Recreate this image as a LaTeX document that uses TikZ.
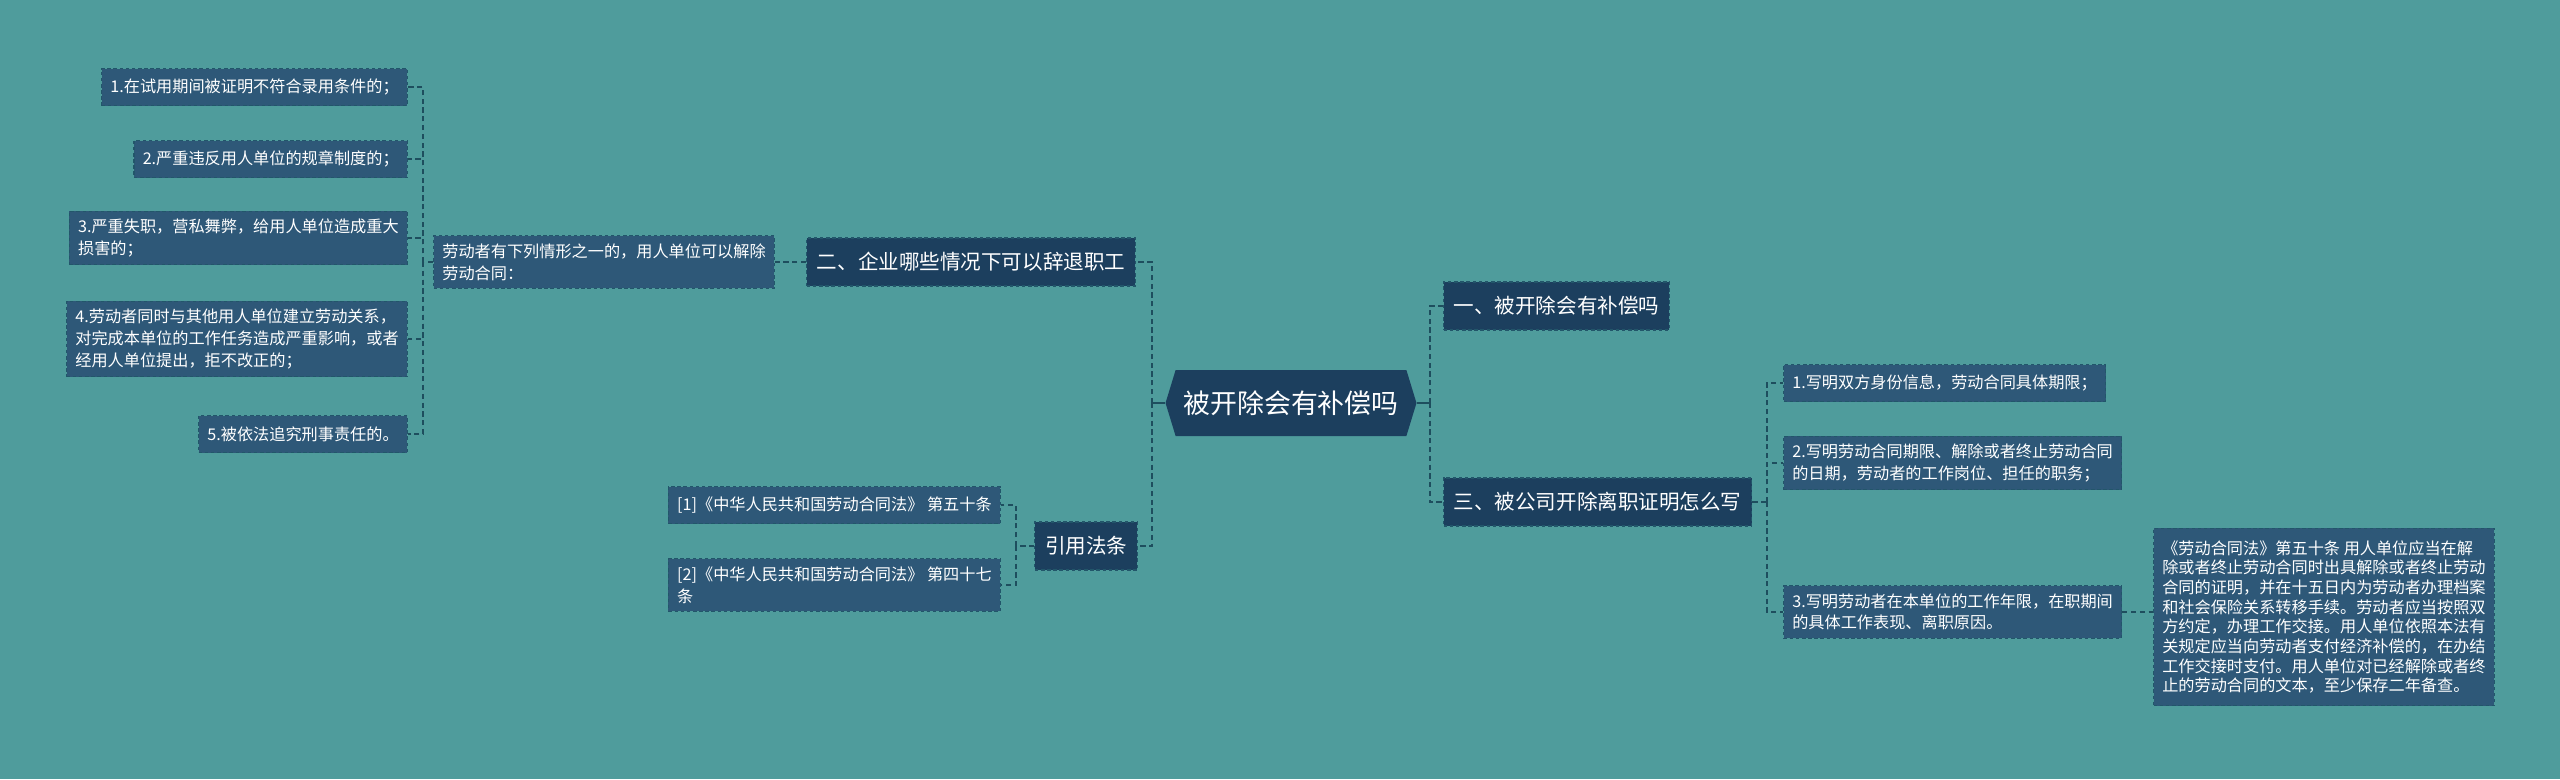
\documentclass[tikz,border=0pt]{standalone}
\usepackage{fontspec}
\setmainfont{Noto Sans CJK SC}
\usetikzlibrary{shapes.symbols, positioning, calc}
\definecolor{bgteal}{HTML}{4F9C9C}
\definecolor{navy}{HTML}{1C3F5E}
\definecolor{leafblue}{HTML}{2E5878}
\definecolor{rim}{HTML}{22566A}
\definecolor{wire}{HTML}{1E4E5E}

\begin{document}
\begin{tikzpicture}[x=0.02cm, y=-0.02cm,
    root/.style={signal, signal to=west and east, signal pointer angle=146,
      fill=navy, text=white, font=\fontsize{15.3pt}{18pt}\selectfont,
      minimum width=5.02cm, minimum height=1.32cm, inner sep=2pt},
    topic/.style={draw=rim, fill=navy, text=white, line width=0.6pt,
      dash pattern=on 2pt off 1.5pt, font=\fontsize{11.7pt}{14pt}\selectfont,
      inner xsep=5.8pt, minimum height=0.96cm},
    leaf/.style={draw=rim, fill=leafblue, text=white, line width=0.6pt,
      dash pattern=on 2pt off 1.5pt, font=\fontsize{9.2pt}{12.3pt}\selectfont,
      align=left, inner xsep=5pt, inner ysep=4.5pt, minimum height=0.74cm},
    link/.style={wire, line width=0.85pt, dash pattern=on 3pt off 2pt},
    stub/.style={wire, line width=0.85pt}]

  \fill[bgteal] (0,0) rectangle (2560,779);

  % centre
  \node[root] (root) at (1291,403) {被开除会有补偿吗};
  \coordinate (cL) at (1152,403);
  \coordinate (cR) at (1430,403);

  % right branch
  \node[topic, anchor=west] (t1) at (1443,306) {一、被开除会有补偿吗};
  \node[topic, anchor=west] (t3) at (1443,502) {三、被公司开除离职证明怎么写};
  \coordinate (sC) at (1767,502);
  \node[leaf, anchor=west] (b1) at (1783,383) {1.写明双方身份信息，劳动合同具体期限；};
  \node[leaf, anchor=west] (b2) at (1783,463) {2.写明劳动合同期限、解除或者终止劳动合同\\的日期，劳动者的工作岗位、担任的职务；};
  \node[leaf, anchor=west] (b3) at (1783,612) {3.写明劳动者在本单位的工作年限，在职期间\\的具体工作表现、离职原因。};
  \node[leaf, anchor=west, font=\fontsize{9.2pt}{11.2pt}\selectfont, inner ysep=7pt] (detail) at (2153,617) {《劳动合同法》第五十条 用人单位应当在解\\除或者终止劳动合同时出具解除或者终止劳动\\合同的证明，并在十五日内为劳动者办理档案\\和社会保险关系转移手续。劳动者应当按照双\\方约定，办理工作交接。用人单位依照本法有\\关规定应当向劳动者支付经济补偿的，在办结\\工作交接时支付。用人单位对已经解除或者终\\止的劳动合同的文本，至少保存二年备查。};

  % left branch
  \node[topic, anchor=east] (t2) at (1136,262) {二、企业哪些情况下可以辞退职工};
  \node[topic, anchor=east] (tref) at (1138,546) {引用法条};
  \node[leaf, anchor=east] (intro) at (775,262) {劳动者有下列情形之一的，用人单位可以解除\\劳动合同：};
  \coordinate (sA) at (423,262);
  \node[leaf, anchor=east] (a1) at (408,87) {1.在试用期间被证明不符合录用条件的；};
  \node[leaf, anchor=east] (a2) at (408,159) {2.严重违反用人单位的规章制度的；};
  \node[leaf, anchor=east] (a3) at (408,238) {3.严重失职，营私舞弊，给用人单位造成重大\\损害的；};
  \node[leaf, anchor=east] (a4) at (408,339) {4.劳动者同时与其他用人单位建立劳动关系，\\对完成本单位的工作任务造成严重影响，或者\\经用人单位提出，拒不改正的；};
  \node[leaf, anchor=east] (a5) at (408,434) {5.被依法追究刑事责任的。};
  \coordinate (sB) at (1016,546);
  \node[leaf, anchor=east] (r1) at (1001,505) {[1]《中华人民共和国劳动合同法》 第五十条};
  \node[leaf, anchor=east] (r2) at (1001,585) {[2]《中华人民共和国劳动合同法》 第四十七\\条};

  % connectors
  \draw[stub] (root.west) -- (cL);
  \draw[stub] (root.east) -- (cR);
  \draw[link] (cL) |- (t2.east);
  \draw[link] (cL) |- (tref.east);
  \draw[link] (cR) |- (t1.west);
  \draw[link] (cR) |- (t3.west);

  \draw[link] (t2.west) -- (intro.east);
  \draw[link] (intro.west) -- (sA);
  \foreach \n in {a1,a2,a3,a4,a5}
    \draw[link] (sA) |- (\n.east);

  \draw[link] (tref.west) -- (sB);
  \draw[link] (sB) |- (r1.east);
  \draw[link] (sB) |- (r2.east);

  \draw[link] (t3.east) -- (sC);
  \foreach \n in {b1,b2,b3}
    \draw[link] (sC) |- (\n.west);
  \draw[link] (b3.east) -- (b3.east -| detail.west);

\end{tikzpicture}
\end{document}
